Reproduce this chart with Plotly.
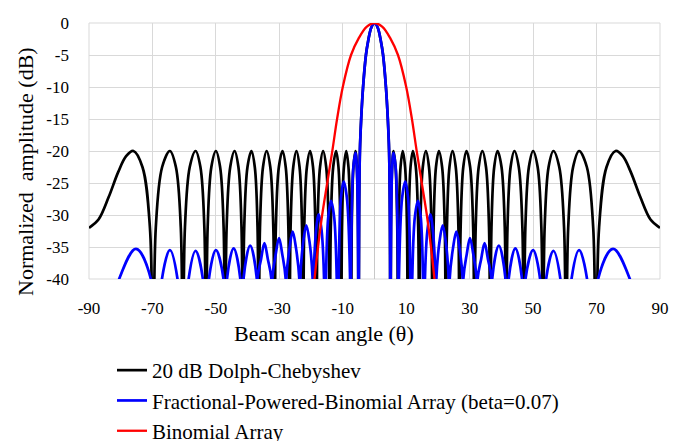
import plotly.graph_objects as go

# ---------------- data ----------------
# angles in degrees, amplitudes in dB (values below -40 are nulls, clipped by the axis)

cheb_left_angle = [
    -90.0, -87.0, -83.8, -80.8, -78.3, -76.0, -73.15, -70.79, -69.8,
    -68.95, -66.94, -64.5, -62.61, -61.06, -60.4,
    -59.76, -58.24, -56.4, -54.88, -53.63, -53.1,
    -52.6, -51.43, -50.0, -48.67, -47.56, -47.1,
    -46.62, -45.48, -44.1, -42.9, -41.92, -41.5,
    -41.07, -40.04, -38.8, -37.74, -36.87, -36.5,
    -36.1, -35.15, -34.0, -32.85, -31.9, -31.5,
    -31.1, -30.15, -29.0, -27.99, -27.15, -26.8,
    -26.45, -25.61, -24.6, -23.63, -22.84, -22.5,
    -22.15, -21.31, -20.3, -19.38, -18.62, -18.3,
    -17.96, -17.17, -16.2, -15.23, -14.44, -14.1,
    -13.78, -13.02, -12.1, -11.36, -10.76, -10.5,
    -10.24, -9.64, -8.9, -8.21, -7.64, -7.4,
    -7.18, -6.64, -6.0, -5.56, -5.2, -5.05,
    -4.85, -4.6, -4.2, -3.6, -2.7, -2.0, -1.0,
]
cheb_left_db = [
    -32, -30.7, -27.2, -23.3, -20.8, -20, -22.5, -32, -60,
    -32, -22.5, -20, -22.5, -32, -60,
    -32, -22.5, -20, -22.5, -32, -60,
    -32, -22.5, -20, -22.5, -32, -60,
    -32, -22.5, -20, -22.5, -32, -60,
    -32, -22.5, -20, -22.5, -32, -60,
    -32, -22.5, -20, -22.5, -32, -60,
    -32, -22.5, -20, -22.5, -32, -60,
    -32, -22.5, -20, -22.5, -32, -60,
    -32, -22.5, -20, -22.5, -32, -60,
    -32, -22.5, -20, -22.5, -32, -60,
    -32, -22.5, -20, -22.5, -32, -60,
    -32, -22.5, -20, -22.5, -32, -60,
    -32, -22.5, -20, -22.5, -32, -60,
    -30, -20, -15, -10, -5, -2.8, -0.7,
]
cheb_right_angle = [
    0.0, 1.0, 2.0, 2.7, 3.6, 4.2, 4.6, 4.85, 5.05,
    5.2, 5.56, 6.0, 6.64, 7.18, 7.4,
    7.64, 8.21, 8.9, 9.64, 10.24, 10.5,
    10.76, 11.36, 12.1, 13.02, 13.78, 14.1,
    14.44, 15.23, 16.2, 17.17, 17.96, 18.3,
    18.62, 19.38, 20.3, 21.31, 22.15, 22.5,
    22.84, 23.63, 24.6, 25.61, 26.45, 26.8,
    27.15, 27.99, 29.0, 30.15, 31.1, 31.5,
    31.9, 32.85, 34.0, 35.15, 36.1, 36.5,
    36.87, 37.74, 38.8, 40.04, 41.07, 41.5,
    41.92, 42.9, 44.1, 45.48, 46.62, 47.1,
    47.56, 48.67, 50.0, 51.43, 52.6, 53.1,
    53.63, 54.88, 56.4, 58.24, 59.76, 60.4,
    61.06, 62.61, 64.5, 66.94, 68.95, 69.8,
    70.79, 73.15, 76.0, 78.3, 80.8, 83.8, 87.0, 90.0,
]
cheb_right_db = [
    0, -0.7, -2.8, -5, -10, -15, -20, -30, -60,
    -32, -22.5, -20, -22.5, -32, -60,
    -32, -22.5, -20, -22.5, -32, -60,
    -32, -22.5, -20, -22.5, -32, -60,
    -32, -22.5, -20, -22.5, -32, -60,
    -32, -22.5, -20, -22.5, -32, -60,
    -32, -22.5, -20, -22.5, -32, -60,
    -32, -22.5, -20, -22.5, -32, -60,
    -32, -22.5, -20, -22.5, -32, -60,
    -32, -22.5, -20, -22.5, -32, -60,
    -32, -22.5, -20, -22.5, -32, -60,
    -32, -22.5, -20, -22.5, -32, -60,
    -32, -22.5, -20, -22.5, -32, -60,
    -32, -22.5, -20, -22.5, -32, -60,
    -32, -22.5, -20, -20.8, -23.3, -27.2, -30.7, -32,
]

fpb_left_angle = [
    -90.0, -80.5, -75.2, -70.5, -68.75,
    -67.0, -64.5, -62.1, -60.35,
    -58.6, -56.4, -54.1, -53.15,
    -52.2, -50.0, -47.6, -47.05,
    -46.5, -44.4, -42.3, -41.8,
    -41.3, -39.2, -37.1, -37.0,
    -36.9, -35.76, -34.7, -33.62, -32.5, -32.35,
    -32.2, -31.13, -30.1, -29.09, -28.0, -27.9,
    -27.8, -26.77, -25.8, -24.77, -23.7, -23.55,
    -23.4, -22.44, -21.5, -20.51, -19.5, -19.35,
    -19.2, -18.4, -17.6, -16.68, -15.9, -15.6,
    -15.3, -14.57, -13.7, -12.73, -11.9, -11.6,
    -11.3, -10.57, -9.7, -8.71, -7.7, -7.55,
    -7.45, -6.71, -6.0, -5.56, -5.12, -5.05,
    -4.85, -4.6, -4.2, -3.6, -2.7, -2.0, -1.0,
]
fpb_left_db = [
    -60, -40, -35.3, -40, -60,
    -40, -35.5, -40, -60,
    -40, -35.6, -40, -60,
    -40, -35.5, -40, -60,
    -40, -35.2, -40, -60,
    -40, -34.8, -40, -60,
    -40, -36.9, -34.4, -36.9, -40, -60,
    -40, -36.1, -33.6, -36.1, -40, -60,
    -40, -35.1, -32.6, -35.1, -40, -60,
    -40, -34.1, -31.6, -34.1, -40, -60,
    -40, -32.4, -29.9, -32.4, -40, -60,
    -40, -30.3, -27.8, -30.3, -40, -60,
    -40, -27.3, -24.8, -27.3, -40, -60,
    -40, -22.8, -20.3, -22.8, -40, -60,
    -30, -20, -15, -10, -5, -2.8, -0.7,
]
fpb_right_angle = [
    0.0, 1.0, 2.0, 2.7, 3.6, 4.2, 4.6, 4.85, 5.05,
    5.12, 5.56, 6.0, 6.71, 7.45, 7.55,
    7.7, 8.71, 9.7, 10.57, 11.3, 11.6,
    11.9, 12.73, 13.7, 14.57, 15.3, 15.6,
    15.9, 16.68, 17.6, 18.4, 19.2, 19.35,
    19.5, 20.51, 21.5, 22.44, 23.4, 23.55,
    23.7, 24.77, 25.8, 26.77, 27.8, 27.9,
    28.0, 29.09, 30.1, 31.13, 32.2, 32.35,
    32.5, 33.62, 34.7, 35.76, 36.9, 37.0,
    37.1, 39.2, 41.3, 41.8,
    42.3, 44.4, 46.5, 47.05,
    47.6, 50.0, 52.2, 53.15,
    54.1, 56.4, 58.6, 60.35,
    62.1, 64.5, 67.0, 68.75,
    70.5, 75.2, 80.5, 90.0,
]
fpb_right_db = [
    0, -0.7, -2.8, -5, -10, -15, -20, -30, -60,
    -40, -22.8, -20.3, -22.8, -40, -60,
    -40, -27.3, -24.8, -27.3, -40, -60,
    -40, -30.3, -27.8, -30.3, -40, -60,
    -40, -32.4, -29.9, -32.4, -40, -60,
    -40, -34.1, -31.6, -34.1, -40, -60,
    -40, -35.1, -32.6, -35.1, -40, -60,
    -40, -36.1, -33.6, -36.1, -40, -60,
    -40, -36.9, -34.4, -36.9, -40, -60,
    -40, -34.8, -40, -60,
    -40, -35.2, -40, -60,
    -40, -35.5, -40, -60,
    -40, -35.6, -40, -60,
    -40, -35.5, -40, -60,
    -40, -35.3, -40, -60,
]

binom_angle = [-20.5, -18.9, -17.8, -16.5, -14.9, -13.3, -11.8, -10.0, -7.4, -5.0, -2.5, 0.0,
               2.5, 5.0, 7.4, 10.0, 11.8, 13.3, 14.9, 16.5, 17.8, 18.9, 20.5]
binom_db = [-48, -40, -35, -30, -25, -20, -15, -10, -5, -2.4, -0.6, 0,
            -0.6, -2.4, -5, -10, -15, -20, -25, -30, -35, -40, -48]

x_ticks = [-90, -70, -50, -30, -10, 10, 30, 50, 70, 90]
y_ticks = [0, -5, -10, -15, -20, -25, -30, -35, -40]

names = ["20 dB Dolph-Chebyshev",
         "Fractional-Powered-Binomial Array (beta=0.07)",
         "Binomial Array"]
x_title = "Beam scan angle (θ)"
y_title = "Normalized\u00a0 amplitude (dB)"

assert len(cheb_left_angle) == len(cheb_left_db)
assert len(cheb_right_angle) == len(cheb_right_db)
assert len(fpb_left_angle) == len(fpb_left_db)
assert len(fpb_right_angle) == len(fpb_right_db)

# ---------------- figure ----------------
W, H = 689, 441
ML, MR, MT, MB = 89, 29, 23, 162
PW, PH = W - ML - MR, H - MT - MB

fig = go.Figure()
fig.add_trace(go.Scatter(
    x=cheb_left_angle + cheb_right_angle, y=cheb_left_db + cheb_right_db,
    mode="lines", name=names[0], legendgroup="a",
    line=dict(color="#000000", width=2.7, shape="spline", smoothing=1.0)))
fig.add_trace(go.Scatter(
    x=fpb_left_angle + fpb_right_angle, y=fpb_left_db + fpb_right_db,
    mode="lines", name=names[1], legendgroup="b",
    line=dict(color="#0000ff", width=2.7, shape="spline", smoothing=1.0)))
fig.add_trace(go.Scatter(
    x=binom_angle, y=binom_db,
    mode="lines", name=names[2], legendgroup="c",
    line=dict(color="#ff0000", width=2.3, shape="spline", smoothing=1.0)))

serif = "Liberation Serif, Times New Roman, serif"
fig.update_layout(
    width=W, height=H,
    margin=dict(l=ML, r=MR, t=MT, b=MB, autoexpand=False),
    paper_bgcolor="white", plot_bgcolor="white",
    font=dict(family=serif, size=17, color="black"),
    showlegend=True,
    legend=dict(x=(112 - ML) / PW, y=(MT + PH - 350) / PH, xanchor="left", yanchor="top",
                bgcolor="rgba(0,0,0,0)", font=dict(family=serif, size=21, color="black"),
                tracegroupgap=0),
)
fig.update_xaxes(
    range=[-90, 90], tickmode="array", tickvals=x_ticks, ticktext=[str(v) for v in x_ticks],
    showgrid=True, gridcolor="#d9d9d9", gridwidth=1,
    zeroline=True, zerolinecolor="#c8c8c8", zerolinewidth=1,
    showline=False, ticks="", ticklabelstandoff=17, automargin=False,
    tickfont=dict(family=serif, size=17),
)
fig.update_yaxes(
    range=[-40, 0], tickmode="array", tickvals=y_ticks, ticktext=[str(v) for v in y_ticks],
    showgrid=True, gridcolor="#d9d9d9", gridwidth=1,
    zeroline=False, showline=False, ticks="", ticklabelstandoff=19, automargin=False,
    tickfont=dict(family=serif, size=17),
)
fig.update_layout(
    shapes=[dict(type="rect", xref="paper", yref="paper", x0=0, y0=0, x1=1, y1=1,
                 line=dict(color="#d9d9d9", width=1), layer="below")],
    annotations=[
        dict(text=x_title, xref="paper", yref="paper",
             x=(324 - ML) / PW, y=(MT + PH - 333) / PH, xanchor="center", yanchor="middle",
             showarrow=False, font=dict(family=serif, size=22, color="black")),
        dict(text=y_title, xref="paper", yref="paper", textangle=-90,
             x=(25 - ML) / PW, y=(MT + PH - 172) / PH, xanchor="center", yanchor="middle",
             showarrow=False, font=dict(family=serif, size=22, color="black")),
    ],
)

fig.write_html("out.html", config={"displayModeBar": False},
               post_script="document.body.style.margin='0';document.body.style.overflow='hidden';")
